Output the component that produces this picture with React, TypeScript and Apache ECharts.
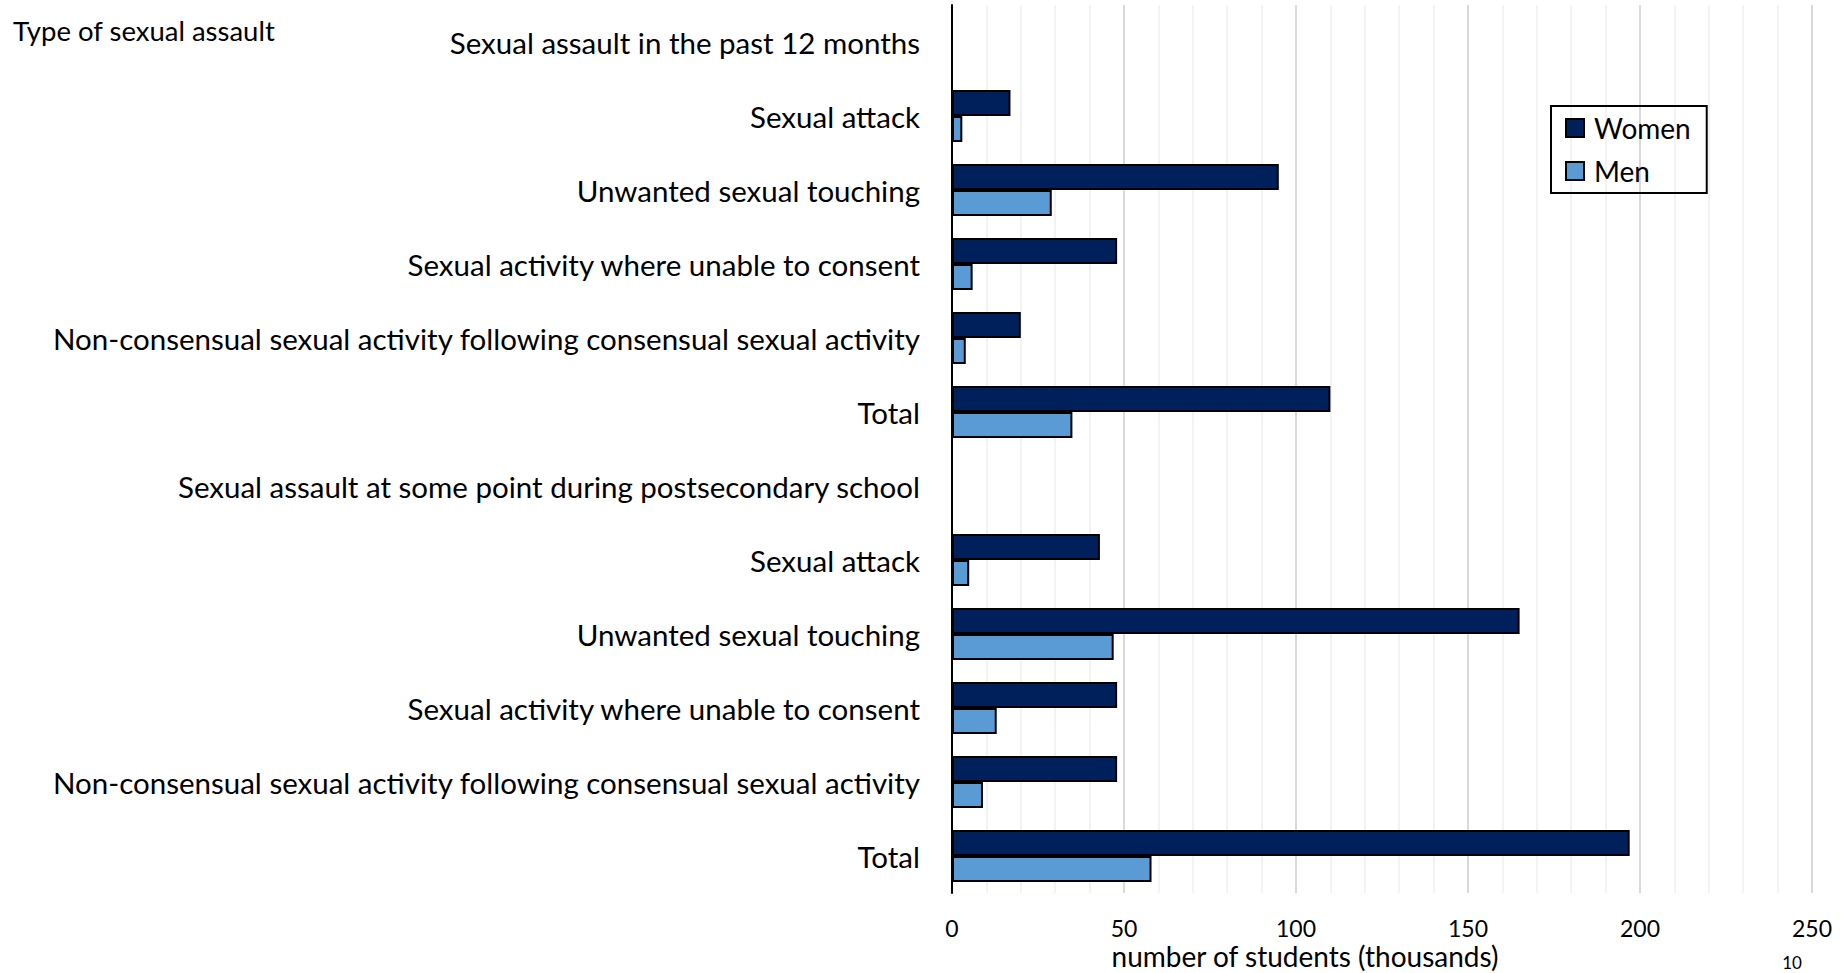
import React, { useEffect, useRef } from "react";
import * as echarts from "echarts";

const categories = [
  "Sexual assault in the past 12 months",
  "Sexual attack",
  "Unwanted sexual touching",
  "Sexual activity where unable to consent",
  "Non-consensual sexual activity following consensual sexual activity",
  "Total",
  "Sexual assault at some point during postsecondary school",
  "Sexual attack",
  "Unwanted sexual touching",
  "Sexual activity where unable to consent",
  "Non-consensual sexual activity following consensual sexual activity",
  "Total",
];
const women = [null, 17, 95, 48, 20, 110, null, 43, 165, 48, 48, 197];
const men = [null, 3, 29, 6, 4, 35, null, 5, 47, 13, 9, 58];
const xTicks = [0, 50, 100, 150, 200, 250];

const FONT = "Lato";

export default function App() {
  const ref = useRef<HTMLDivElement>(null);
  useEffect(() => {
    document.body.style.margin = "0";
    const chart = echarts.init(ref.current!, null, { renderer: "svg" });
    chart.setOption({
      animation: false,
      backgroundColor: "#ffffff",
      textStyle: { fontFamily: FONT },
      grid: { left: 952, right: 33, top: 5, bottom: 80, containLabel: false },
      legend: {
        orient: "vertical",
        left: 1551,
        top: 106,
        data: ["Women", "Men"],
        itemWidth: 18,
        itemHeight: 18,
        itemGap: 15,
        padding: [8, 16, 8, 14],
        borderColor: "#000",
        borderWidth: 2,
        textStyle: { fontFamily: FONT, fontSize: 28, color: "#000", padding: [0, 0, 0, 5] },
        icon: "rect",
      },
      xAxis: {
        type: "value",
        min: xTicks[0],
        max: xTicks[xTicks.length - 1],
        interval: 50,
        axisLine: { show: false },
        axisTick: { show: false },
        axisLabel: { fontFamily: FONT, fontSize: 23, color: "#000", margin: 23 },
        splitLine: { show: true, lineStyle: { color: "#d9d9d9", width: 2 } },
        minorTick: { show: false, splitNumber: 5 },
        minorSplitLine: { show: true, lineStyle: { color: "#efefef", width: 1.5 } },
      },
      yAxis: {
        type: "category",
        inverse: true,
        data: categories,
        axisLine: { show: true, lineStyle: { color: "#000", width: 2 } },
        axisTick: { show: false },
        axisLabel: { fontFamily: FONT, fontSize: 29.5, color: "#000", margin: 32, padding: [0, 0, 5, 0] },
        splitLine: { show: false },
      },
      series: [
        {
          name: "Women",
          type: "bar",
          data: women,
          barWidth: 26,
          barGap: "0%",
          itemStyle: { color: "#00205b", borderColor: "#000", borderWidth: 2 },
        },
        {
          name: "Men",
          type: "bar",
          data: men,
          barWidth: 26,
          barGap: "0%",
          itemStyle: { color: "#5b9bd5", borderColor: "#000", borderWidth: 2 },
        },
      ],
      graphic: [
        {
          type: "text",
          left: 13,
          top: 16,
          style: { text: "Type of sexual assault", font: `27.5px ${FONT}`, fill: "#000" },
        },
        {
          type: "text",
          x: 1305,
          y: 956,
          style: {
            text: "number of students (thousands)",
            font: `28px ${FONT}`,
            fill: "#000",
            align: "center",
            verticalAlign: "middle",
          },
        },
        {
          type: "text",
          x: 1792,
          y: 962,
          style: { text: "10", font: `17px ${FONT}`, fill: "#000", align: "center", verticalAlign: "middle" },
        },
      ],
    });
    return () => chart.dispose();
  }, []);
  return <div ref={ref} style={{ position: "fixed", left: 0, top: 0, width: 1845, height: 973 }} />;
}
